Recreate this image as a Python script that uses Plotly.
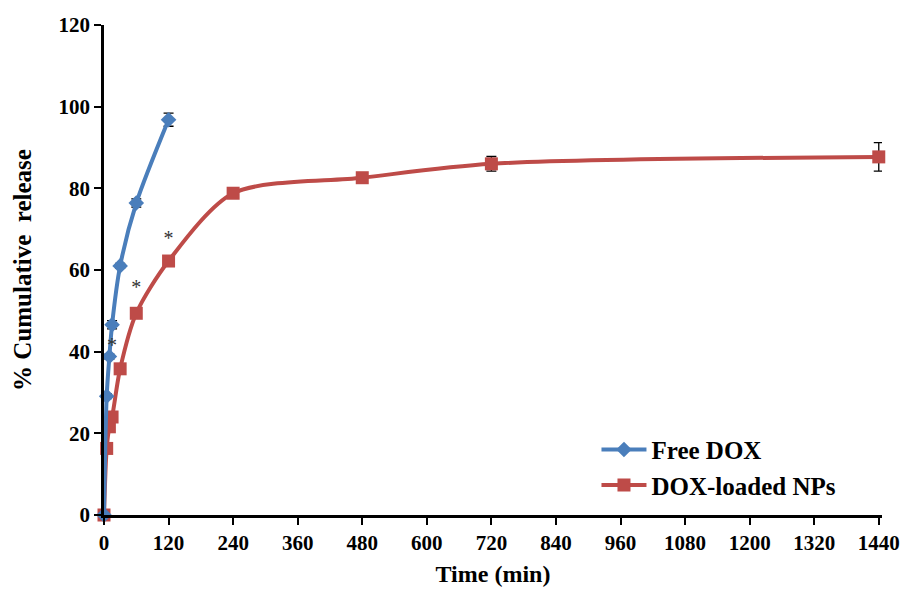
import plotly.graph_objects as go

# Release time points (min) and cumulative release (%)
free_time = [0, 5, 10, 15, 30, 60, 120]
free_release = [0, 29.1, 38.8, 46.6, 61.0, 76.4, 96.8]
free_err = [0, 0.6, 0.6, 1.0, 0.6, 1.0, 1.6]

np_time = [0, 5, 10, 15, 30, 60, 120, 240, 480, 720, 1440]
np_release = [0, 16.3, 21.6, 24.0, 35.8, 49.4, 62.2, 78.8, 82.6, 86.0, 87.7]
np_err = [0, 0.5, 0.5, 0.5, 0.6, 0.6, 0.6, 0.7, 0.8, 1.8, 3.5]

# Significance markers
sig_time = [15, 60, 120]
sig_y = [41.2, 55.3, 67.3]

x_ticks = list(range(0, 1441, 120))
y_ticks = list(range(0, 121, 20))

font_family = "Liberation Serif"
blue = "#4A7EBB"
red = "#BE4B48"

fig = go.Figure()

fig.add_trace(go.Scatter(
    x=np_time, y=np_release, name="DOX-loaded NPs", mode="lines+markers",
    line=dict(color=red, width=4, shape="spline", smoothing=0.8),
    marker=dict(symbol="square", size=13, color=red),
    error_y=dict(type="data", array=np_err, color="black", thickness=1.3, width=5),
    cliponaxis=False,
))

fig.add_trace(go.Scatter(
    x=free_time, y=free_release, name="Free DOX", mode="lines+markers",
    line=dict(color=blue, width=4, shape="spline", smoothing=0.8),
    marker=dict(symbol="diamond", size=12, color=blue),
    error_y=dict(type="data", array=free_err, color="black", thickness=1.3, width=5),
    cliponaxis=False,
))

fig.add_trace(go.Scatter(
    x=sig_time, y=sig_y, mode="text", text=["*"] * len(sig_time),
    textfont=dict(family=font_family, size=20, color="#333333"),
    showlegend=False, hoverinfo="skip", cliponaxis=False,
))

fig.update_layout(
    width=909, height=590,
    margin=dict(l=104, r=27, t=25, b=75),
    paper_bgcolor="white", plot_bgcolor="white",
    font=dict(family=font_family, size=16, color="black"),
    showlegend=True,
    legend=dict(
        x=0.633, y=0.18, xanchor="left", yanchor="top",
        traceorder="reversed",
        font=dict(family=font_family, size=25, color="black", weight="bold"),
        bgcolor="rgba(0,0,0,0)",
        itemwidth=45,
        tracegroupgap=2,
    ),
    xaxis=dict(
        range=[0, 1446], tickvals=x_ticks, ticktext=[str(v) for v in x_ticks],
        showline=True, linecolor="black", linewidth=2.5,
        ticks="outside", ticklen=7, tickwidth=2, tickcolor="black",
        showgrid=False, zeroline=False, automargin=False,
        tickfont=dict(family=font_family, size=21, color="black", weight="bold"),
        title=dict(text="<b>Time (min)</b>", font=dict(family=font_family, size=24), standoff=12),
    ),
    yaxis=dict(
        range=[0, 120], tickvals=y_ticks,
        showline=True, linecolor="black", linewidth=2.5,
        ticks="outside", ticklen=7, tickwidth=2, tickcolor="black",
        showgrid=False, zeroline=False, automargin=False,
        tickfont=dict(family=font_family, size=21, color="black", weight="bold"),
        title=dict(text="<b>% Cumulative\u00a0 release</b>", font=dict(family=font_family, size=25), standoff=20),
    ),
)

fig.write_html("out.html")
